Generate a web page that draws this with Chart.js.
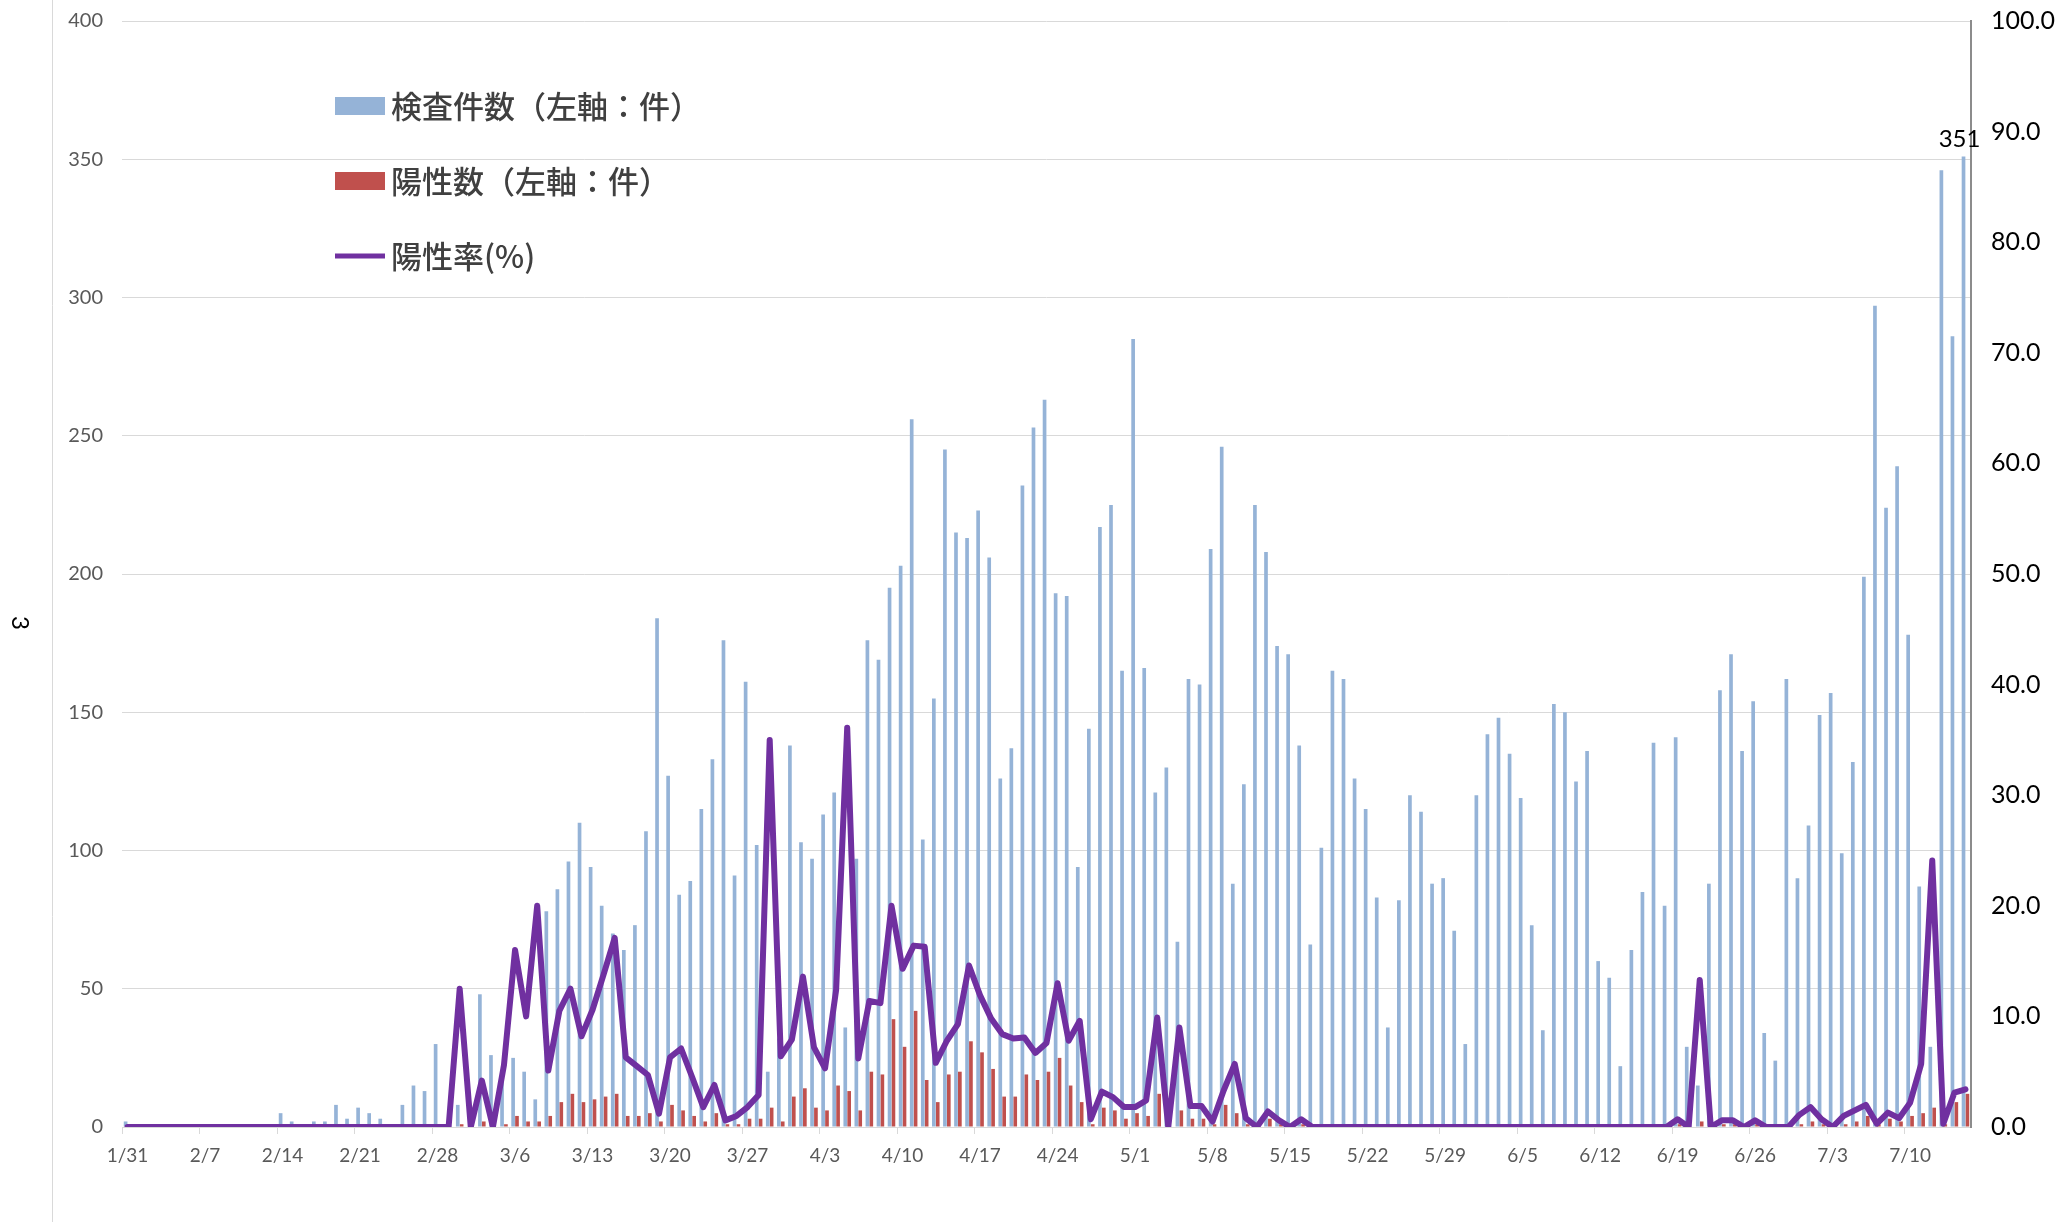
<!DOCTYPE html>
<html lang="ja">
<head>
<meta charset="utf-8">
<title>検査件数・陽性数・陽性率</title>
<script src="https://cdn.jsdelivr.net/npm/chart.js@4/dist/chart.umd.min.js"></script>
<style>
	html,body{margin:0;padding:0;background:#fff;}
	#wrap{position:relative;width:2058px;height:1222px;}
</style>
</head>
<body>
<div id="wrap"><canvas id="chart" width="2058" height="1222"></canvas></div>
<script>
(function(){
	// Daily categories 1/31 .. 7/15 (2020, leap year)
	const START = new Date(2020, 0, 31);
	const DAY_COUNT = 167;
	const dates = buildDates(START, DAY_COUNT);

	// labels shown under the axis
	const tickLabels = ['1/31','2/7','2/14','2/21','2/28','3/6','3/13','3/20','3/27','4/3','4/10','4/17',
		'4/24','5/1','5/8','5/15','5/22','5/29','6/5','6/12','6/19','6/26','7/3','7/10'];

	const seriesNames = ['検査件数（左軸：件）', '陽性数（左軸：件）', '陽性率(%)'];
	const leftAxisTitle = '3';

	// 検査件数 (left axis)
	const tests = [
		2,0,0,0,0,0,0,0,0,0,0,0,0,0,      // 1/31 - 2/13
		5,2,0,2,2,8,3,                    // 2/14
		7,5,3,0,8,15,13,                  // 2/21
		30,0,8,0,48,26,18,                // 2/28
		25,20,10,78,86,96,110,            // 3/6
		94,80,70,64,73,107,184,           // 3/13
		127,84,89,115,133,176,91,         // 3/20
		161,102,20,32,138,103,97,         // 3/27
		113,121,36,97,176,169,195,        // 4/3
		203,256,104,155,245,215,213,      // 4/10
		223,206,126,137,232,253,263,      // 4/17
		193,192,94,144,217,225,165,       // 4/24
		285,166,121,130,67,162,160,       // 5/1
		209,246,88,124,225,208,174,       // 5/8
		171,138,66,101,165,162,126,       // 5/15
		115,83,36,82,120,114,88,          // 5/22
		90,71,30,120,142,148,135,         // 5/29
		119,73,35,153,150,125,136,        // 6/5
		60,54,22,64,85,139,80,            // 6/12
		141,29,15,88,158,171,136,         // 6/19
		154,34,24,162,90,109,149,         // 6/26
		157,99,132,199,297,224,239,       // 7/3
		178,87,29,346,286,351             // 7/10
	];

	// 陽性数 (left axis)
	const positives = [
		0,0,0,0,0,0,0,0,0,0,0,0,0,0,
		0,0,0,0,0,0,0,
		0,0,0,0,0,0,0,
		0,0,1,0,2,0,1,
		4,2,2,4,9,12,9,
		10,11,12,4,4,5,2,
		8,6,4,2,5,1,1,
		3,3,7,2,11,14,7,
		6,15,13,6,20,19,39,
		29,42,17,9,19,20,31,
		27,21,11,11,19,17,20,
		25,15,9,1,7,6,3,
		5,4,12,0,6,3,3,
		1,8,5,1,0,3,1,
		0,1,0,0,0,0,0,
		0,0,0,0,0,0,0,
		0,0,0,0,0,0,0,
		0,0,0,0,0,0,0,
		0,0,0,0,0,0,0,
		1,0,2,0,1,1,0,
		1,0,0,0,1,2,1,
		0,1,2,4,1,3,2,
		4,5,7,1,9,12
	];

	// 陽性率 % (right axis)
	const rates = [
		0,0,0,0,0,0,0,0,0,0,0,0,0,0,
		0,0,0,0,0,0,0,
		0,0,0,0,0,0,0,
		0,0,12.5,0,4.2,0,5.6,
		16.0,10.0,20.0,5.1,10.5,12.5,8.2,
		10.6,13.8,17.1,6.3,5.5,4.7,1.2,
		6.3,7.1,4.5,1.8,3.8,0.6,1.0,
		1.8,2.9,35.0,6.4,7.9,13.6,7.2,
		5.3,12.4,36.1,6.2,11.4,11.2,20.0,
		14.3,16.4,16.3,5.8,7.8,9.3,14.6,
		11.9,9.8,8.4,8.0,8.1,6.7,7.6,
		13.0,7.8,9.6,0.7,3.2,2.7,1.8,
		1.8,2.4,9.9,0,9.0,1.9,1.9,
		0.5,3.3,5.7,0.8,0,1.4,0.6,
		0,0.7,0,0,0,0,0,
		0,0,0,0,0,0,0,
		0,0,0,0,0,0,0,
		0,0,0,0,0,0,0,
		0,0,0,0,0,0,0,
		0.7,0,13.3,0,0.6,0.6,0,
		0.6,0,0,0,1.1,1.8,0.7,
		0,1.0,1.5,2.0,0.3,1.3,0.8,
		2.2,5.7,24.1,0.3,3.1,3.4
	];

	const COLORS = { tests:'#95b3d7', positives:'#c0504d', rate:'#7030a0', grid:'#d9d9d9', text:'#595959' };

	function buildDates(start, count){
		const out = [];
		for(let i=0;i<count;i++){
			const d = new Date(start.getFullYear(), start.getMonth(), start.getDate() + i);
			out.push((d.getMonth()+1) + '/' + d.getDate());
		}
		return out;
	}

	// fixed axis box sizes, no extra label padding
	function fixBox(size, isVertical){
		return s => {
			if(isVertical){ s.width = size; s.paddingTop = 0; s.paddingBottom = 0; }
			else { s.height = size; }
		};
	}

	// legend, axis title, border line and the single data label
	const extrasPlugin = {
		id: 'extras',
		afterDraw(chart){
			const ctx = chart.ctx;
			ctx.save();

			ctx.strokeStyle = COLORS.grid;
			ctx.lineWidth = 1;
			ctx.beginPath(); ctx.moveTo(52.5, 0); ctx.lineTo(52.5, 1222); ctx.stroke();

			ctx.save();
			ctx.translate(20, 623);
			ctx.rotate(Math.PI/2);
			ctx.fillStyle = '#000';
			ctx.font = '24px Lato';
			ctx.textAlign = 'center';
			ctx.textBaseline = 'middle';
			ctx.fillText(leftAxisTitle, 0, 0);
			ctx.restore();

			// legend inside plot, upper left
			chart.data.datasets.forEach((ds, i) => {
				const y = 106 + i*75;
				if(ds.type === 'line'){
					ctx.strokeStyle = ds.borderColor;
					ctx.lineWidth = 5;
					ctx.beginPath(); ctx.moveTo(335, y); ctx.lineTo(385, y); ctx.stroke();
				}else{
					ctx.fillStyle = ds.backgroundColor;
					ctx.fillRect(335, y-9, 50, 18);
				}
				ctx.fillStyle = '#404040';
				ctx.font = '500 31px "Noto Sans CJK JP"';
				ctx.textAlign = 'left';
				ctx.textBaseline = 'middle';
				ctx.fillText(ds.label, 391, y);
			});

			// value label on the last test bar
			const meta = chart.getDatasetMeta(0);
			const last = meta.data[meta.data.length-1];
			ctx.fillStyle = '#000';
			ctx.font = '24px Lato';
			ctx.textAlign = 'center';
			ctx.textBaseline = 'bottom';
			ctx.fillText(String(tests[tests.length-1]), last.x - 4, last.y - 5);

			ctx.restore();
		}
	};

	Chart.defaults.font.family = 'Lato, "Noto Sans CJK JP", sans-serif';

	new Chart(document.getElementById('chart'), {
		type: 'bar',
		data: {
			labels: dates,
			datasets: [
				{ type:'bar', label: seriesNames[0], data: tests, backgroundColor: COLORS.tests,
					yAxisID:'y', order: 2, categoryPercentage: 0.7, barPercentage: 0.95 },
				{ type:'bar', label: seriesNames[1], data: positives, backgroundColor: COLORS.positives,
					yAxisID:'y', order: 2, categoryPercentage: 0.7, barPercentage: 0.95 },
				{ type:'line', label: seriesNames[2], data: rates, borderColor: COLORS.rate, backgroundColor: COLORS.rate,
					yAxisID:'y1', order: 0, borderWidth: 6, pointRadius: 0, tension: 0,
					borderJoinStyle: 'round', borderCapStyle: 'round' }
			]
		},
		options: {
			responsive: false,
			animation: false,
			layout: { padding: { top: 21, left: 0, right: 0, bottom: 0 } },
			plugins: { legend: { display: false }, tooltip: { enabled: false } },
			scales: {
				x: {
					offset: true,
					grid: {
						offset: true, drawOnChartArea: false, drawTicks: true, tickLength: 7, lineWidth: 1,
						color: c => (c.index % 7 === 0 ? COLORS.grid : 'rgba(0,0,0,0)')
					},
					border: { display: true, color: COLORS.grid, width: 1 },
					ticks: {
						autoSkip: false, maxRotation: 0, minRotation: 0, padding: 10,
						color: COLORS.text, font: { size: 19 },
						callback: (v, i) => (tickLabels.includes(dates[i]) ? dates[i] : '')
					},
					afterFit: fixBox(95, false)
				},
				y: {
					position: 'left', min: 0, max: 400,
					ticks: { stepSize: 50, color: COLORS.text, font: { size: 20 }, padding: 19 },
					grid: { color: COLORS.grid, lineWidth: 1, drawTicks: false },
					border: { display: false },
					afterFit: fixBox(122, true)
				},
				y1: {
					position: 'right', min: 0, max: 100,
					ticks: { stepSize: 10, color: '#000', font: { size: 25 }, padding: 20, callback: v => v.toFixed(1) },
					grid: { drawOnChartArea: false, drawTicks: false },
					border: { display: true, color: '#8c8c8c', width: 2 },
					afterFit: fixBox(87, true)
				}
			}
		},
		plugins: [extrasPlugin]
	});
})();
</script>
</body>
</html>
